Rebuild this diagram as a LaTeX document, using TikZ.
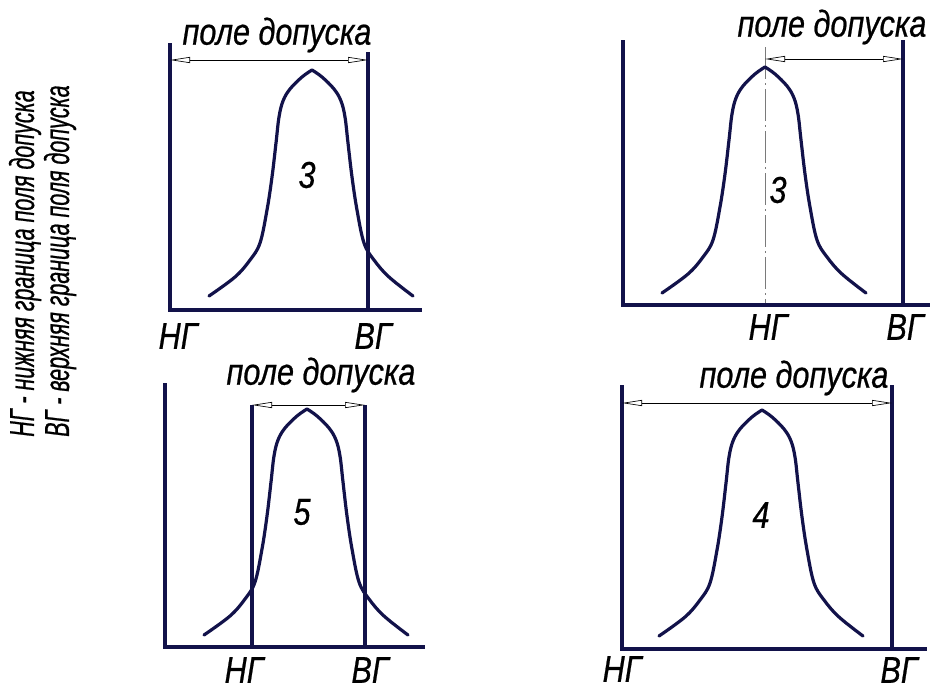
\documentclass[tikz,border=0pt]{standalone}
\usepackage{fontspec}
\newfontfamily\gostfont{Liberation Sans}[FakeStretch=0.82,FakeBold=0.6]
\newfontfamily\gostnarrow{Liberation Sans}[FakeStretch=0.62,FakeBold=0.6]
\usepackage{tikz}
\usetikzlibrary{arrows.meta}
\definecolor{Ink}{HTML}{12124A}
\definecolor{Center}{HTML}{7A7A7A}
\tikzset{
  axisline/.style={draw=Ink,line width=2.4pt},
  bellline/.style={draw=Ink,line width=2.4pt,line join=round,line cap=round},
  dimline/.style={{Triangle[open,length=15pt,width=4.5pt]}-{Triangle[open,length=15pt,width=4.5pt]},
                  draw=black,line width=0.5pt},
  centerline/.style={draw=Center,line width=0.6pt,dash pattern=on 24pt off 3pt on 1.5pt off 3pt},
  lbl/.style={font=\gostfont\itshape\fontsize{28}{33}\selectfont,inner sep=0pt},
  legend/.style={font=\gostnarrow\itshape\fontsize{26}{31}\selectfont,inner sep=0pt,rotate=90,anchor=west},
  bell/.pic={
    \draw[bellline] plot[smooth,tension=0.6] coordinates
      {(-103,226) (-77,207) (-62,190) (-52,173) (-45,140) (-40,107) (-36,73) (-33,47) (-29,31) (-22,19) (-10,7) (0,0)}
      -- plot[smooth,tension=0.6] coordinates
      {(0,0) (10,7) (22,19) (29,31) (33,47) (36,73) (40,107) (45,140) (52,173) (62,190) (77,207) (101,226)};
  }
}
\begin{document}
\begin{tikzpicture}[x=0.75pt,y=-0.75pt]
  \useasboundingbox (0,0) rectangle (932,690);

  % legend
  \node[legend] (legng) at (25,437) {НГ - нижняя граница поля допуска};
  \node[legend] (legvg) at (60,437) {ВГ - верхняя граница поля допуска};

  % panel 1
  \coordinate (a-top) at (170,43);
  \coordinate (a-o) at (170,310);
  \coordinate (a-end) at (422,310);
  \coordinate (a-vgtop) at (368,52);
  \coordinate (a-vg) at (368,310);
  \coordinate (a-dl) at (170,60);
  \coordinate (a-dr) at (368,60);
  \draw[axisline] (a-top) -- (a-o) -- (a-end);
  \draw[axisline] (a-vgtop) -- (a-vg);
  \draw[dimline] (a-dl) -- (a-dr);
  \pic at (312,70) {bell};
  \node[lbl] (a-field) at (277,35) {поле допуска};
  \node[lbl] (a-num) at (307,175) {3};
  \node[lbl] (a-ng) at (178,336) {НГ};
  \node[lbl] (a-vgl) at (373,336) {ВГ};

  % panel 2
  \coordinate (b-top) at (623,40);
  \coordinate (b-o) at (623,305);
  \coordinate (b-end) at (930,305);
  \coordinate (b-vgtop) at (903,40);
  \coordinate (b-vg) at (903,305);
  \coordinate (b-ctop) at (765,47);
  \coordinate (b-c) at (765,305);
  \coordinate (b-dl) at (765,59);
  \coordinate (b-dr) at (903,59);
  \draw[centerline] (b-ctop) -- (b-c);
  \draw[axisline] (b-top) -- (b-o) -- (b-end);
  \draw[axisline] (b-vgtop) -- (b-vg);
  \draw[dimline] (b-dl) -- (b-dr);
  \pic at (765,67) {bell};
  \node[lbl] (b-field) at (832,27) {поле допуска};
  \node[lbl] (b-num) at (778,190) {3};
  \node[lbl] (b-ng) at (768,327) {НГ};
  \node[lbl] (b-vgl) at (905,327) {ВГ};

  % panel 3
  \coordinate (c-top) at (165,383);
  \coordinate (c-o) at (165,647);
  \coordinate (c-end) at (425,647);
  \coordinate (c-ngtop) at (252,405);
  \coordinate (c-ng) at (252,647);
  \coordinate (c-vgtop) at (365,405);
  \coordinate (c-vg) at (365,647);
  \draw[axisline] (c-top) -- (c-o) -- (c-end);
  \draw[axisline] (c-ngtop) -- (c-ng);
  \draw[axisline] (c-vgtop) -- (c-vg);
  \draw[dimline] (c-ngtop) -- (c-vgtop);
  \pic at (307,409) {bell};
  \node[lbl] (c-field) at (321,375) {поле допуска};
  \node[lbl] (c-num) at (302,512) {5};
  \node[lbl] (c-ngl) at (244,670) {НГ};
  \node[lbl] (c-vgl) at (370,670) {ВГ};

  % panel 4
  \coordinate (d-top) at (622,385);
  \coordinate (d-o) at (622,649);
  \coordinate (d-end) at (927,649);
  \coordinate (d-vgtop) at (892,385);
  \coordinate (d-vg) at (892,649);
  \coordinate (d-dl) at (622,403);
  \coordinate (d-dr) at (892,403);
  \draw[axisline] (d-top) -- (d-o) -- (d-end);
  \draw[axisline] (d-vgtop) -- (d-vg);
  \draw[dimline] (d-dl) -- (d-dr);
  \pic at (762,410) {bell};
  \node[lbl] (d-field) at (794,378) {поле допуска};
  \node[lbl] (d-num) at (761,515) {4};
  \node[lbl] (d-ngl) at (622,669) {НГ};
  \node[lbl] (d-vgl) at (899,670) {ВГ};
\end{tikzpicture}
\end{document}
